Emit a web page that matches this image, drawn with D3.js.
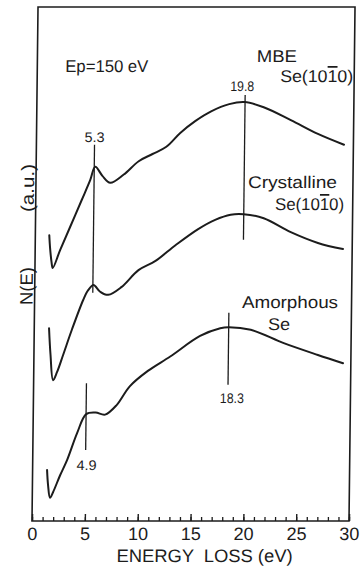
<!DOCTYPE html>
<html>
<head>
<meta charset="utf-8">
<script src="https://cdn.jsdelivr.net/npm/d3@7"></script>
<style>
  html, body { margin: 0; padding: 0; background: #fff; }
  svg { display: block; }
  text { font-family: "Liberation Sans", Arial, sans-serif; fill: #1c1c1c; }
</style>
</head>
<body>
<svg id="chart" width="364" height="567"></svg>
<script>
// ---- data (energy loss in eV, N(E) in arbitrary units) ----
const mbeE = [1.32,1.41,1.56,1.68,2.36,3.28,4.36,5.13,5.59,6.3,7.03,8.3,9.7,11.0,12.3,13.6,15.0,16.5,18.2,19.66,21.47,24.05,26.63,29.11];
const mbeN = [5.56,5.31,5.04,4.92,5.27,5.72,6.25,6.63,6.89,6.71,6.58,6.74,7.0,7.14,7.28,7.55,7.78,7.97,8.11,8.15,8.05,7.80,7.53,7.32];

const crysE = [1.40,1.57,1.84,2.21,2.76,3.56,4.6,5.06,5.56,6.2,6.96,8.2,9.8,11.4,13.3,15.4,17.0,18.46,19.69,21.59,24.17,26.75,29.13];
const crysN = [3.75,3.23,2.74,2.90,3.23,3.72,4.30,4.49,4.59,4.46,4.40,4.55,4.88,5.06,5.37,5.68,5.86,5.96,5.97,5.89,5.62,5.41,5.29];

const amE = [1.37,1.48,1.68,1.96,2.61,3.26,4.17,5.01,5.9,6.8,7.9,9.1,10.8,12.9,15.7,17.6,18.39,20.49,23.63,26.87,29.26];
const amN = [0.99,0.70,0.45,0.56,0.89,1.19,1.71,2.08,2.11,2.07,2.26,2.62,2.92,3.2,3.6,3.75,3.77,3.72,3.46,3.23,3.07];

// peak markers
const markerE      = [5.5, 19.7, 18.4, 5.0];
const markerTop    = [7.32, 8.29, 4.05, 2.68];
const markerBottom = [4.44, 5.47, 2.65, 1.38];
const markerLabels = ["5.3", "19.8", "18.3", "4.9"];

const xTicksMajor = [0, 5, 10, 15, 20, 25, 30];
const xTickLabels = ["0", "5", "10", "15", "20", "25", "30"];

// ---- layout ----
const L = 32, R = 349, T = 7, B = 521;
const skew = 0.0117; // slight skew of the scanned figure

const svg = d3.select("#chart");
const g = svg.append("g")
  .attr("transform", `matrix(1,0,${-skew},1,${skew * B},0)`);

const x = d3.scaleLinear().domain([0, 30]).range([L, R]);
const y = d3.scaleLinear().domain([0, 10]).range([B, T]);

const ink = "#1c1c1c";

// frame
g.append("rect")
  .attr("x", L).attr("y", T).attr("width", R - L).attr("height", B - T)
  .attr("fill", "none").attr("stroke", ink).attr("stroke-width", 1.6);

// minor ticks
const minorAxis = d3.axisBottom(x).tickValues(d3.range(0, 31)).tickSizeInner(-4).tickSizeOuter(0).tickFormat("");
g.append("g").attr("transform", `translate(0,${B})`).call(minorAxis)
  .call(s => s.select(".domain").remove())
  .call(s => s.selectAll("line").attr("stroke", ink).attr("stroke-width", 1.3));

// major ticks + labels
const majorAxis = d3.axisBottom(x).tickValues(xTicksMajor).tickSizeInner(-7).tickSizeOuter(0)
  .tickPadding(6).tickFormat((d, i) => xTickLabels[i]);
g.append("g").attr("transform", `translate(0,${B})`).call(majorAxis)
  .call(s => s.select(".domain").remove())
  .call(s => s.selectAll("line").attr("stroke", ink).attr("stroke-width", 1.4))
  .call(s => s.selectAll("text").attr("font-size", 18).attr("fill", ink)
      .attr("font-family", '"Liberation Sans", Arial, sans-serif'));

// axis title
g.append("text").attr("x", 117).attr("y", 562)
  .attr("font-size", 18).attr("textLength", 176).attr("lengthAdjust", "spacingAndGlyphs")
  .attr("xml:space", "preserve")
  .text("ENERGY  LOSS (eV)");

// y label (rotated)
g.append("text").attr("transform", "translate(30,188) rotate(-90)")
  .attr("text-anchor", "middle").attr("font-size", 18)
  .attr("textLength", 48).attr("lengthAdjust", "spacingAndGlyphs").text("(a.u.)");
g.append("text").attr("transform", "translate(30,286) rotate(-90)")
  .attr("text-anchor", "middle").attr("font-size", 18)
  .attr("textLength", 38).attr("lengthAdjust", "spacingAndGlyphs").text("N(E)");

// curves
const line = d3.line().x(d => x(d[0])).y(d => y(d[1])).curve(d3.curveCatmullRom.alpha(0.5));
[[mbeE, mbeN], [crysE, crysN], [amE, amN]].forEach(([es, ns]) => {
  g.append("path").datum(es.map((e, i) => [e, ns[i]]))
    .attr("d", line).attr("fill", "none").attr("stroke", ink)
    .attr("stroke-width", 2).attr("stroke-linejoin", "round").attr("stroke-linecap", "round");
});

// peak markers
const markerLabelPos = [
  { side: "top", dx: 0, gap: 3 },
  { side: "top", dx: -3, gap: 4 },
  { side: "bottom", dx: 4, gap: 18 },
  { side: "bottom", dx: 1, gap: 20 }
];
markerE.forEach((e, i) => {
  g.append("line")
    .attr("x1", x(e)).attr("x2", x(e))
    .attr("y1", y(markerTop[i])).attr("y2", y(markerBottom[i]))
    .attr("stroke", ink).attr("stroke-width", 1.3);
  const p = markerLabelPos[i];
  const ty = p.side === "top" ? y(markerTop[i]) - p.gap : y(markerBottom[i]) + p.gap;
  g.append("text").attr("x", x(e) + p.dx).attr("y", ty)
    .attr("text-anchor", "middle").attr("font-size", 14)
    .attr("textLength", markerLabels[i].length === 3 ? 20 : 24)
    .attr("lengthAdjust", "spacingAndGlyphs")
    .text(markerLabels[i]);
});

// annotations
function label(xp, yp, txt, w) {
  return g.append("text").attr("x", xp).attr("y", yp).attr("font-size", 17)
    .attr("textLength", w).attr("lengthAdjust", "spacingAndGlyphs").text(txt);
}
label(60, 72, "Ep=150 eV", 83);
label(251.5, 62, "MBE", 40);
label(244, 188, "Crystalline", 89);
label(239.5, 308, "Amorphous", 96);
label(265.8, 330, "Se", 22);

function miller(xp, yp, w) {
  const t = g.append("text").attr("x", xp).attr("y", yp).attr("font-size", 17)
    .attr("textLength", w).attr("lengthAdjust", "spacingAndGlyphs");
  t.append("tspan").text("Se(10");
  t.append("tspan").attr("text-decoration", "overline").style("text-decoration", "overline").text("1");
  t.append("tspan").text("0)");
}
miller(275, 82, 73);
miller(271.4, 210, 69);
</script>
</body>
</html>
